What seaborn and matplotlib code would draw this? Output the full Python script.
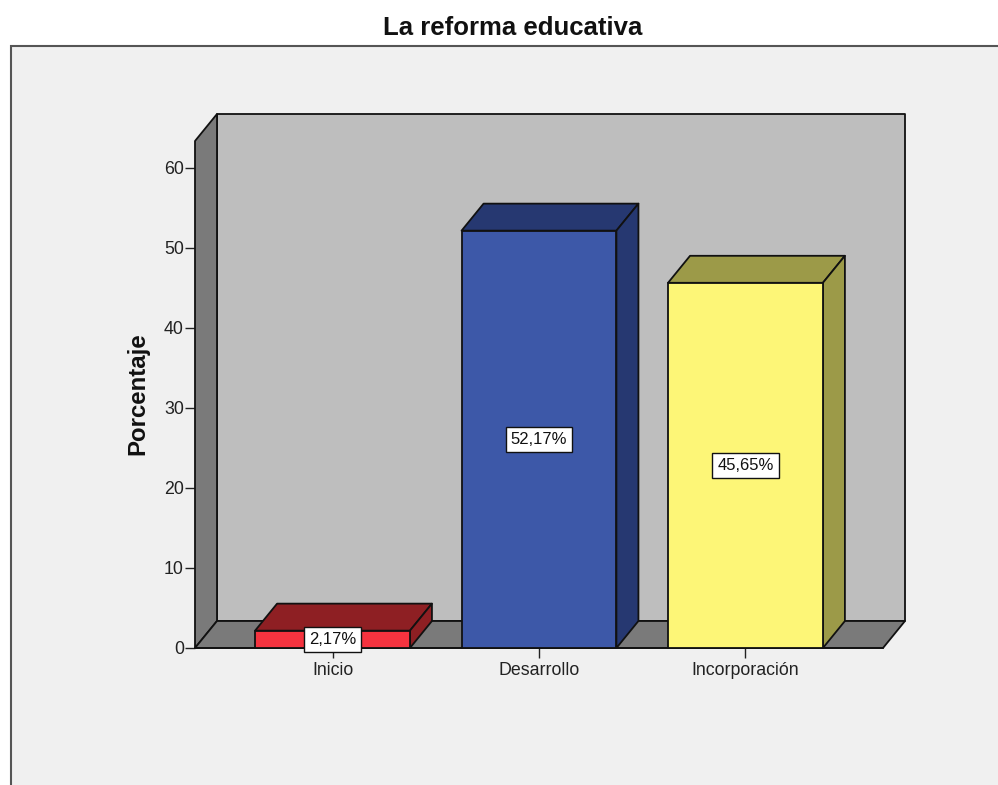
import matplotlib
matplotlib.use('Agg')
import matplotlib.pyplot as plt
import pandas as pd
import seaborn as sns
from matplotlib.patches import Polygon, Rectangle

categories = ['Inicio', 'Desarrollo', 'Incorporación']
percentages = [2.17, 52.17, 45.65]
value_labels = ['2,17%', '52,17%', '45,65%']
y_ticks = [0, 10, 20, 30, 40, 50, 60]
front_colors = ['#f5333f', '#3d58a8', '#fdf677']
top_colors = ['#8e1f23', '#263871', '#9c9a48']

W, H = 998, 785
BAR_WIDTH = 0.75
DX = 0.1065   # depth of the 3D box in x data units
DY = 3.375    # depth of the 3D box in y data units
X_MIN, X_MAX = -0.666, 2.666
Y_MAX = 63.375
EDGE = '#111111'


def face(ax, points, color, zorder):
    """ Add one flat face of the fake 3D box. """
    ax.add_patch(Polygon(points, closed=True, facecolor=color, edgecolor=EDGE,
                         linewidth=1.3, zorder=zorder, clip_on=False, joinstyle='round'))


def draw_box(ax):
    """ Draw the back wall, side wall and floor. """
    face(ax, [(X_MIN + DX, DY), (X_MAX + DX, DY), (X_MAX + DX, Y_MAX + DY), (X_MIN + DX, Y_MAX + DY)], '#bebebe', 1)
    face(ax, [(X_MIN, 0), (X_MIN + DX, DY), (X_MIN + DX, Y_MAX + DY), (X_MIN, Y_MAX)], '#7a7a7a', 1)
    face(ax, [(X_MIN, 0), (X_MAX, 0), (X_MAX + DX, DY), (X_MIN + DX, DY)], '#7a7a7a', 1)


def draw_bar_depth(ax, bars):
    """ Draw top and side faces of each bar from the bar patches. """
    for bar, top_color in zip(bars, top_colors):
        x0 = bar.get_x()
        x1 = x0 + bar.get_width()
        h = bar.get_height()
        face(ax, [(x0, h), (x1, h), (x1 + DX, h + DY), (x0 + DX, h + DY)], top_color, 2)
        face(ax, [(x1, 0), (x1 + DX, DY), (x1 + DX, h + DY), (x1, h)], top_color, 2)


def main():
    sns.set_theme(style='white')
    plt.rcParams['font.family'] = ['Liberation Sans', 'DejaVu Sans']

    df = pd.DataFrame({'categoria': categories, 'porcentaje': percentages})

    fig = plt.figure(figsize=(W / 100, H / 100), dpi=100, facecolor='white')
    fig.add_artist(Rectangle((11 / W, -0.05), 1.05, 1.05 - 46 / H, transform=fig.transFigure,
                             facecolor='#f0f0f0', edgecolor='#555555', linewidth=1.5, zorder=-1))

    ax = fig.add_axes([195 / W, 1 - 648 / H, 688 / W, 507 / H])
    ax.patch.set_alpha(0)
    sns.barplot(data=df, x='categoria', y='porcentaje', hue='categoria', palette=front_colors,
                legend=False, width=BAR_WIDTH, saturation=1, edgecolor=EDGE, linewidth=1.3,
                zorder=3, ax=ax, clip_on=False)
    bars = list(ax.patches)

    draw_box(ax)
    draw_bar_depth(ax, bars)

    ax.set_xlim(X_MIN, X_MAX)
    ax.set_ylim(0, Y_MAX)
    ax.set_yticks(y_ticks)
    ax.tick_params(axis='both', length=7, width=1, color='#222222', left=True, bottom=True,
                   labelsize=12.8, labelcolor='#222222')
    ax.tick_params(axis='y', pad=1)
    ax.tick_params(axis='x', pad=3)
    for side in ['top', 'right', 'left']:
        ax.spines[side].set_visible(False)
    ax.spines['bottom'].set_color(EDGE)
    ax.spines['bottom'].set_zorder(2)
    ax.set_xlabel('')
    ax.set_ylabel('Porcentaje', fontsize=17.3, fontweight='bold', color='#111111')
    ax.yaxis.set_label_coords(-46 / 688, 254 / 507)

    for bar, text in zip(bars, value_labels):
        ax.text(bar.get_x() + bar.get_width() / 2, bar.get_height() / 2, text, ha='center', va='center',
                fontsize=12, color='#111111', zorder=5, clip_on=False,
                bbox=dict(boxstyle='square,pad=0.3', facecolor='white', edgecolor=EDGE, linewidth=1))

    fig.text(513 / W, 1 - 28 / H, 'La reforma educativa', ha='center', va='center',
             fontsize=18.5, fontweight='bold', color='#111111')

    fig.savefig('out.png', dpi=100)


if __name__ == '__main__':
    main()
